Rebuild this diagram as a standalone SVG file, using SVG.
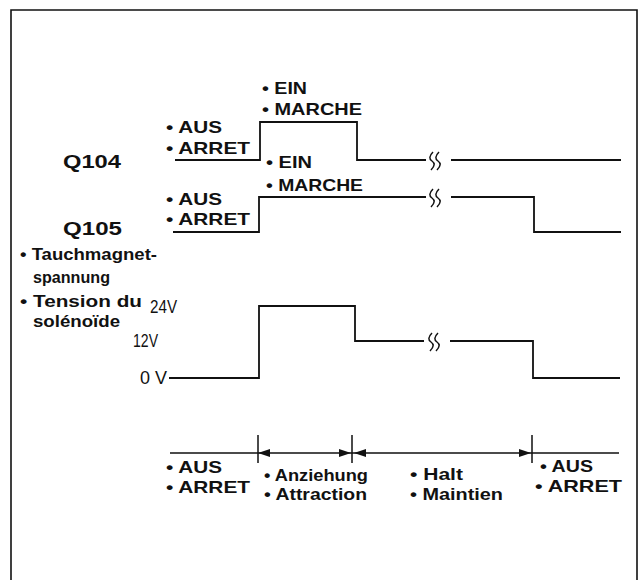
<svg xmlns="http://www.w3.org/2000/svg" width="639" height="580" viewBox="0 0 639 580">
<style>
text{font-family:"Liberation Sans",Arial,sans-serif;font-size:16.5px;font-weight:bold;fill:#111;}
.q{font-size:19px;}
.v{font-size:18px;font-weight:normal;}
.ln{fill:none;stroke:#111;stroke-width:1.8;}
.fr{fill:none;stroke:#111;stroke-width:1.6;}
.br{fill:none;stroke:#111;stroke-width:1.5;}
.ah{fill:#111;}
</style>
<defs>
<path id="brk" class="br" d="M3,-9 C-1,-5 -1,-2 2,0 C5,2 5,5 1,9 M9,-9 C5,-5 5,-2 8,0 C11,2 11,5 7,9"/>
</defs>
<rect width="639" height="580" fill="#fff"/>
<path class="fr" d="M11,580 V10 H637 V580"/>

<g id="q104">
<text x="63" y="168" class="q" textLength="58" lengthAdjust="spacingAndGlyphs">Q104</text>
<text x="262" y="94" textLength="45" lengthAdjust="spacingAndGlyphs">• EIN</text>
<text x="262" y="115" textLength="100" lengthAdjust="spacingAndGlyphs">• MARCHE</text>
<text x="166" y="133" textLength="56" lengthAdjust="spacingAndGlyphs">• AUS</text>
<text x="166" y="154" textLength="84" lengthAdjust="spacingAndGlyphs">• ARRET</text>
<path class="ln" d="M175,160 H260 V122 H357 V160 H426 M451,160 H621"/>
<use href="#brk" x="430" y="161"/>
</g>

<g id="q105">
<text x="63" y="235" class="q" textLength="59" lengthAdjust="spacingAndGlyphs">Q105</text>
<text x="266" y="168" textLength="46" lengthAdjust="spacingAndGlyphs">• EIN</text>
<text x="266" y="191" textLength="97" lengthAdjust="spacingAndGlyphs">• MARCHE</text>
<text x="166" y="205" textLength="56" lengthAdjust="spacingAndGlyphs">• AUS</text>
<text x="166" y="225" textLength="84" lengthAdjust="spacingAndGlyphs">• ARRET</text>
<path class="ln" d="M173,232 H259 V197 H426 M451,197 H534 V232 H621"/>
<use href="#brk" x="430" y="198"/>
</g>

<g id="voltage">
<text x="20" y="260" textLength="137" lengthAdjust="spacingAndGlyphs">• Tauchmagnet-</text>
<text x="33" y="283" textLength="77" lengthAdjust="spacingAndGlyphs">spannung</text>
<text x="20" y="307" textLength="122" lengthAdjust="spacingAndGlyphs">• Tension du</text>
<text x="33" y="327" textLength="87" lengthAdjust="spacingAndGlyphs">solénoïde</text>
<text x="150" y="313" class="v" textLength="27" lengthAdjust="spacingAndGlyphs">24V</text>
<text x="133" y="347" class="v" textLength="25" lengthAdjust="spacingAndGlyphs">12V</text>
<text x="140" y="384" class="v" textLength="27" lengthAdjust="spacingAndGlyphs">0 V</text>
<path class="ln" d="M169,378 H259 V306 H355 V341 H424 M450,341 H533 V378 H620"/>
<use href="#brk" x="429" y="342"/>
</g>

<g id="timeline">
<path class="ln" d="M170,453 H619 M258,435 V463 M352,435 V463 M532,435 V463" style="stroke-width:1.5"/>
<path class="ah" d="M258,453 L270,449 L270,457 Z"/>
<path class="ah" d="M351,453 L339,449 L339,457 Z"/>
<path class="ah" d="M354,453 L366,449 L366,457 Z"/>
<path class="ah" d="M531,453 L519,449 L519,457 Z"/>
</g>

<g id="phase-labels">
<text x="166" y="473" textLength="56" lengthAdjust="spacingAndGlyphs">• AUS</text>
<text x="166" y="493" textLength="84" lengthAdjust="spacingAndGlyphs">• ARRET</text>
<text x="264" y="481" textLength="104" lengthAdjust="spacingAndGlyphs">• Anziehung</text>
<text x="264" y="500" textLength="103" lengthAdjust="spacingAndGlyphs">• Attraction</text>
<text x="410" y="480" textLength="53" lengthAdjust="spacingAndGlyphs">• Halt</text>
<text x="410" y="500" textLength="93" lengthAdjust="spacingAndGlyphs">• Maintien</text>
<text x="540" y="472" textLength="53" lengthAdjust="spacingAndGlyphs">• AUS</text>
<text x="535" y="492" textLength="87" lengthAdjust="spacingAndGlyphs">• ARRET</text>
</g>
</svg>
